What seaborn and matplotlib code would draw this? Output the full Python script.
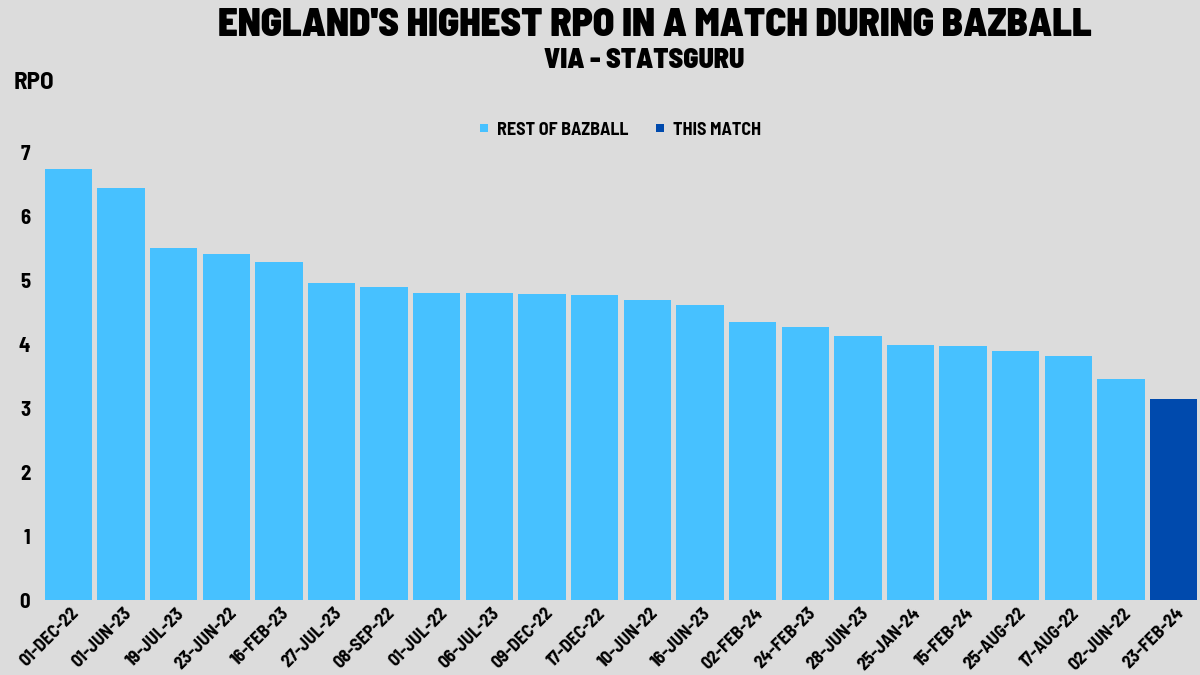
import numpy as np
import pandas as pd
import matplotlib.pyplot as plt
import matplotlib.transforms as mtransforms
import seaborn as sns
from matplotlib.lines import Line2D

# match start dates and highest run rate per match
dates = ['01-DEC-22', '01-JUN-23', '19-JUL-23', '23-JUN-22', '16-FEB-23', '27-JUL-23',
         '08-SEP-22', '01-JUL-22', '06-JUL-23', '09-DEC-22', '17-DEC-22', '10-JUN-22',
         '16-JUN-23', '02-FEB-24', '24-FEB-23', '28-JUN-23', '25-JAN-24', '15-FEB-24',
         '25-AUG-22', '17-AUG-22', '02-JUN-22', '23-FEB-24']
rpo = [6.74, 6.44, 5.51, 5.41, 5.29, 4.96, 4.90, 4.80, 4.80, 4.79, 4.77, 4.70,
       4.62, 4.35, 4.27, 4.13, 3.99, 3.98, 3.90, 3.81, 3.46, 3.14]
groups = ['REST OF BAZBALL'] * 21 + ['THIS MATCH']
colours = {'REST OF BAZBALL': '#47c1ff', 'THIS MATCH': '#004aad'}
yticks = [0, 1, 2, 3, 4, 5, 6, 7]

df = pd.DataFrame({'date': dates, 'rpo': rpo, 'group': groups})

sns.set_style('white')
label_font = ['Barlow Semi Condensed', 'Asap Condensed', 'Barlow Condensed', 'DejaVu Sans']
plt.rcParams['font.family'] = label_font
plt.rcParams['text.color'] = 'black'
bg = '#dcdcdc'

fig = plt.figure(figsize=(12, 6.75), dpi=100, facecolor=bg)
ax = fig.add_axes([0.035, 0.111, 0.965, 0.72])
ax.set_facecolor(bg)

sns.barplot(data=df, x='date', y='rpo', hue='group', palette=colours,
            dodge=False, width=0.9, saturation=1, linewidth=0,
            legend=False, ax=ax)

ax.set_xlim(-0.5, len(dates) - 0.5)
ax.set_ylim(0, 7.6)
ax.set_yticks(yticks)
ax.set_yticklabels([str(t) for t in yticks], fontsize=15, fontweight='bold')
ax.tick_params(axis='both', length=0, colors='black')
ax.tick_params(axis='y', pad=8.5)
ax.set_xticks(range(len(dates)))
ax.set_xticklabels(dates, rotation=45, ha='right', rotation_mode='anchor',
                   fontsize=13, fontweight='bold')
shift = mtransforms.ScaledTranslation(2 / 100, 0, fig.dpi_scale_trans)
for lab in ax.get_xticklabels():
    lab.set_transform(lab.get_transform() + shift)
ax.set_xlabel('')
ax.set_ylabel('')
sns.despine(ax=ax, left=True, bottom=True)

fig.text(0.028, 0.877, 'RPO', fontsize=18, fontweight='bold', ha='center', va='center')
fig.text(0.546, 0.962, "ENGLAND'S HIGHEST RPO IN A MATCH DURING BAZBALL",
         fontsize=28, fontweight=900, ha='center', va='center')
fig.text(0.537, 0.911, 'VIA - STATSGURU', fontsize=20, fontweight=900,
         ha='center', va='center')

handles = [Line2D([], [], marker='s', linestyle='', markersize=6,
                  markerfacecolor=colours[k], markeredgewidth=0, label=k)
           for k in colours]
fig.legend(handles=handles, loc='center', bbox_to_anchor=(0.515, 0.807), ncol=2,
           frameon=False, prop={'weight': 'bold', 'size': 13},
           handlelength=1.0, handletextpad=0.2, columnspacing=1.3)

fig.savefig('out.png', dpi=100, facecolor=bg)
